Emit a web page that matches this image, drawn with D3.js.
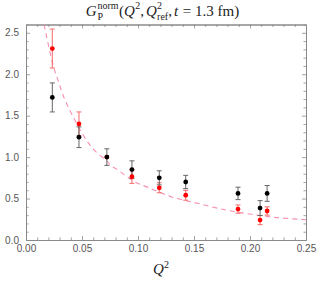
<!DOCTYPE html>
<html><head><meta charset="utf-8">
<script src="https://cdn.jsdelivr.net/npm/d3@7"></script>
<style>body{margin:0;background:#fff}svg{display:block}</style>
</head><body>
<svg id="c" width="322" height="284"></svg>
<script>
const q2 = [0.0235, 0.0473, 0.0722, 0.0946, 0.1190, 0.1426, 0.1893, 0.2090, 0.2153];
const gBlack = [1.72, 1.24, 1.00, 0.85, 0.75, 0.70, 0.562, 0.385, 0.562];
const errBlack = [0.175, 0.125, 0.10, 0.105, 0.085, 0.08, 0.075, 0.09, 0.095];
const gRed = [2.31, 1.40, 1.00, 0.763, 0.63, 0.54, 0.373, 0.24, 0.35];
const errRed = [0.235, 0.145, 0, 0.08, 0.06, 0.06, 0.05, 0.055, 0.05];
const curveQ2 = [0.0161, 0.0244, 0.0288, 0.0333, 0.0408, 0.0542, 0.0616, 0.072, 0.0765, 0.081, 0.0973, 0.109, 0.130, 0.154, 0.179, 0.2015, 0.224, 0.25];
const curveG  = [2.60, 2.10, 1.92, 1.74, 1.52, 1.20, 1.076, 0.955, 0.89, 0.855, 0.70, 0.635, 0.52, 0.44, 0.36, 0.31, 0.27, 0.245];
const xMajor = [0, 0.05, 0.10, 0.15, 0.20, 0.25];
const yMajor = [0, 0.5, 1.0, 1.5, 2.0, 2.5];

const svg = d3.select("#c");
const L = 26, R = 306, T = 24.5, B = 240;
const x = d3.scaleLinear([0, 0.25], [L, R]);
const y = d3.scaleLinear([0, 2.6], [B, T]);
const xMinor = d3.range(0, 0.2501, 0.01).map(v => +v.toFixed(2)).filter(v => !xMajor.some(m => Math.abs(m - v) < 1e-9));
const yMinor = d3.range(0, 2.601, 0.1).map(v => +v.toFixed(1)).filter(v => !yMajor.some(m => Math.abs(m - v) < 1e-9));

const axCol = "#8a8a8a", lblCol = "#555";
function styleAxis(g) {
  g.select(".domain").attr("stroke", axCol).attr("stroke-width", 1);
  g.selectAll(".tick line").attr("stroke", axCol).attr("stroke-width", 0.8);
  g.selectAll(".tick text").attr("fill", lblCol).attr("font-family", "Liberation Sans, Arial, sans-serif").attr("font-size", 10);
}
const fmt = d3.format(".2f"), fmt1 = d3.format(".1f");
svg.append("g").attr("transform", `translate(0,${B})`)
  .call(d3.axisBottom(x).tickValues(xMajor).tickFormat(fmt).tickSizeInner(-4).tickSizeOuter(0).tickPadding(5)).call(styleAxis);
svg.append("g").attr("transform", `translate(0,${B})`)
  .call(d3.axisBottom(x).tickValues(xMinor).tickFormat("").tickSizeInner(-2.5).tickSizeOuter(0)).call(styleAxis);
svg.append("g").attr("transform", `translate(0,${T})`)
  .call(d3.axisTop(x).tickValues(xMajor).tickFormat("").tickSizeInner(-4).tickSizeOuter(0)).call(styleAxis);
svg.append("g").attr("transform", `translate(0,${T})`)
  .call(d3.axisTop(x).tickValues(xMinor).tickFormat("").tickSizeInner(-2.5).tickSizeOuter(0)).call(styleAxis);
svg.append("g").attr("transform", `translate(${L},0)`)
  .call(d3.axisLeft(y).tickValues(yMajor).tickFormat(fmt1).tickSizeInner(-4).tickSizeOuter(0).tickPadding(7)).call(styleAxis);
svg.append("g").attr("transform", `translate(${L},0)`)
  .call(d3.axisLeft(y).tickValues(yMinor).tickFormat("").tickSizeInner(-2.5).tickSizeOuter(0)).call(styleAxis);
svg.append("g").attr("transform", `translate(${R},0)`)
  .call(d3.axisRight(y).tickValues(yMajor).tickFormat("").tickSizeInner(-4).tickSizeOuter(0)).call(styleAxis);
svg.append("g").attr("transform", `translate(${R},0)`)
  .call(d3.axisRight(y).tickValues(yMinor).tickFormat("").tickSizeInner(-2.5).tickSizeOuter(0)).call(styleAxis);

svg.append("clipPath").attr("id", "clip").append("rect").attr("x", L).attr("y", T).attr("width", R - L).attr("height", B - T);
const plot = svg.append("g").attr("clip-path", "url(#clip)");

const line = d3.line().x(d => x(d[0])).y(d => y(d[1])).curve(d3.curveCatmullRom);
plot.append("path").datum(curveQ2.map((q, i) => [q, curveG[i]]))
  .attr("d", line).attr("fill", "none").attr("stroke", "#f78fae").attr("stroke-width", 1.1).attr("stroke-dasharray", "5,4");

function errBars(vals, errs, col) {
  const g = plot.append("g").attr("stroke", col).attr("stroke-width", 1);
  q2.forEach((q, i) => {
    if (!errs[i]) return;
    const cx = x(q), y1 = y(vals[i] + errs[i]), y0 = y(vals[i] - errs[i]);
    g.append("line").attr("x1", cx).attr("x2", cx).attr("y1", y1).attr("y2", y0);
    g.append("line").attr("x1", cx - 2.5).attr("x2", cx + 2.5).attr("y1", y1).attr("y2", y1);
    g.append("line").attr("x1", cx - 2.5).attr("x2", cx + 2.5).attr("y1", y0).attr("y2", y0);
  });
}
errBars(gRed, errRed, "#f56a6a");
errBars(gBlack, errBlack, "#666");
plot.append("g").selectAll("circle").data(q2).join("circle")
  .attr("cx", d => x(d)).attr("cy", (d, i) => y(gRed[i])).attr("r", 2.4).attr("fill", "#f00");
plot.append("g").selectAll("circle").data(q2).join("circle")
  .attr("cx", d => x(d)).attr("cy", (d, i) => y(gBlack[i])).attr("r", 2.4).attr("fill", "#000");

const serif = "Liberation Serif, Times New Roman, serif";
function mathText(parent, pieces, cx, baseY, size) {
  const g = parent.append("g");
  let xpos = 0;
  pieces.forEach(p => {
    if (p.stack) {
      let w = 0;
      p.stack.forEach(s => {
        const t = g.append("text").attr("x", xpos).attr("y", s.dy).attr("font-family", serif)
          .attr("font-size", s.size).attr("font-style", s.italic ? "italic" : "normal").attr("fill", "#222").text(s.t);
        w = Math.max(w, t.node().getComputedTextLength());
      });
      xpos += w + (p.gap || 0);
    } else {
      const t = g.append("text").attr("x", xpos).attr("y", p.dy || 0).attr("font-family", serif)
        .attr("font-size", p.size || size).attr("font-style", p.italic ? "italic" : "normal").attr("fill", "#222")
        .attr("xml:space", "preserve").style("white-space", "pre").text(p.t);
      xpos += t.node().getComputedTextLength() + (p.gap || 0);
    }
  });
  g.attr("transform", `translate(${cx - xpos / 2},${baseY})`);
}
mathText(svg, [
  {t: "G", italic: true, gap: 0.8},
  {stack: [{t: "norm", size: 10, dy: -7}, {t: "P", size: 10, dy: 4.5}], gap: 0.5},
  {t: "("},
  {t: "Q", italic: true, gap: 0.3},
  {t: "2", size: 10, dy: -6.5},
  {t: ",", gap: 2},
  {t: "Q", italic: true, gap: 0.3},
  {stack: [{t: "2", size: 10, dy: -7}, {t: "ref", size: 10, dy: 4.5}]},
  {t: ",", gap: 2},
  {t: "t", italic: true, gap: 1},
  {t: " = 1.3 fm)"}
], 162.5, 15.5, 15);

mathText(svg, [
  {t: "Q", italic: true, gap: 0.3},
  {t: "2", size: 10, dy: -6.5}
], 161, 274, 15);
</script>
</body></html>
